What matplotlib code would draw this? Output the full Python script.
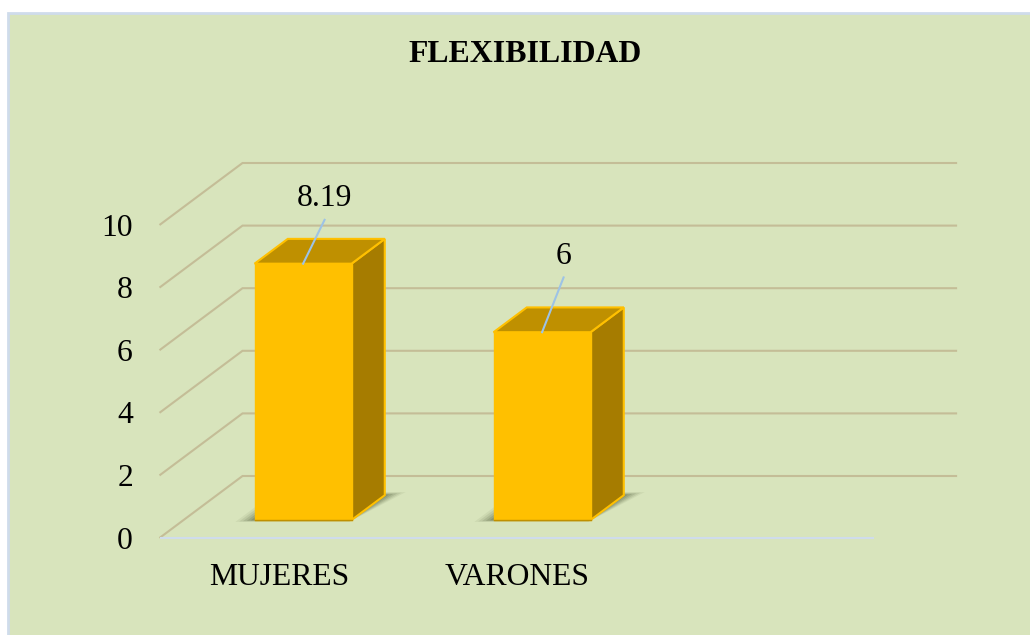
import numpy as np
import matplotlib
matplotlib.use("Agg")
import matplotlib.pyplot as plt
from matplotlib.patches import Polygon, Rectangle

plt.rcParams['font.family'] = ['Liberation Serif']

categorias = ["MUJERES", "VARONES", ""]
valores = [8.19, 6]
etiquetas = ["8.19", "6"]
yticks = [0, 2, 4, 6, 8, 10]
titulo = "FLEXIBILIDAD"

W, H = 1030, 635
# fake 3d: the floor goes back by this much, in data units
DX = 83 / 239
DY = 62 / 31.3


def proy(x, v, d):
    return x + d * DX, v + d * DY


fig = plt.figure(figsize=(W / 100, H / 100), dpi=100, facecolor='white')

# background panel
fig.patches.append(Rectangle((8 / W, -0.01), 1, 1.01 - 13 / H, transform=fig.transFigure,
                             facecolor='#D8E4BC', edgecolor='#CFDCEB', linewidth=2, zorder=-1))

ax = fig.add_axes([0, 0, 1, 1])
ax.set_xlim(-279 / 239, 751 / 239)
ax.set_ylim(-97 / 31.3, 538 / 31.3)
ax.axis('off')

x0, x1 = -0.5, len(categorias) - 0.51

# grid: side line and back wall line
for v in yticks:
    xs = [x0, proy(x0, v, 1)[0], proy(x1, v, 1)[0]]
    ys = [v, proy(x0, v, 1)[1], proy(x1, v, 1)[1]]
    ax.plot(xs, ys, color='#C4BD97', lw=1.5, zorder=1, solid_joinstyle='miter', solid_capstyle='butt')
    ax.text(x0 - 0.111, v - 0.1, str(v), ha='right', va='center', fontsize=22.8, color='black')

ax.plot([x0, x1], [0, 0], color='#CFDCEB', lw=1.5, zorder=2, solid_capstyle='butt')

# bars
ancho = 97 / 239
d0, d1 = 0.29, 0.69
# leader line length differs per bar
subida = [1.4, 1.75]
for i, val in enumerate(valores):
    xa, xb = i - ancho / 2, i + ancho / 2

    # soft shadow on the floor
    for grow, al in zip([1.0, 0.8, 0.6, 0.4, 0.2], [0.07, 0.1, 0.13, 0.16, 0.2]):
        g = grow * 0.07
        sombra = [proy(xa - g, 0, d0 - 0.03 * grow), proy(xb, 0, d0 - 0.03 * grow),
                  proy(xb + g, 0, d1 + 0.05 * grow), proy(xa - g, 0, d1 + 0.05 * grow)]
        ax.add_patch(Polygon(sombra, closed=True, facecolor='#3F4A2A', alpha=al,
                             edgecolor='none', zorder=3))

    frente = [proy(xa, 0, d0), proy(xb, 0, d0), proy(xb, val, d0), proy(xa, val, d0)]
    arriba = [proy(xa, val, d0), proy(xb, val, d0), proy(xb, val, d1), proy(xa, val, d1)]
    lado = [proy(xb, 0, d0), proy(xb, 0, d1), proy(xb, val, d1), proy(xb, val, d0)]
    ax.add_patch(Polygon(lado, closed=True, facecolor='#A67C00', edgecolor='#FFC000', lw=1.5, zorder=4))
    ax.add_patch(Polygon(arriba, closed=True, facecolor='#BF9000', edgecolor='#FFC000', lw=1.5, zorder=4))
    ax.add_patch(Polygon(frente, closed=True, facecolor='#FFC000', edgecolor='#FFC000', lw=1, zorder=5))
    ax.plot([frente[0][0], frente[1][0]], [frente[0][1], frente[1][1]], color='#BF9000', lw=1, zorder=5)

    # data label with leader line
    lx, ly = proy(i, val, d0)
    ax.plot([lx, lx + 0.09], [ly, ly + subida[i]], color='#9DC3E6', lw=1.5, zorder=6)
    ax.text(lx + 0.09, ly + subida[i] + 0.68, etiquetas[i], ha='center', va='center',
            fontsize=22.8, color='black', zorder=7)

for i, cat in enumerate(categorias):
    ax.text(i - 0.004 * i, -1.25, cat, ha='center', va='center', fontsize=22.8, color='black')

fig.text(525 / W, 1 - 55 / H, titulo, ha='center', va='center', fontsize=22.9, fontweight='bold', color='black')

fig.savefig('out.png', dpi=100)
